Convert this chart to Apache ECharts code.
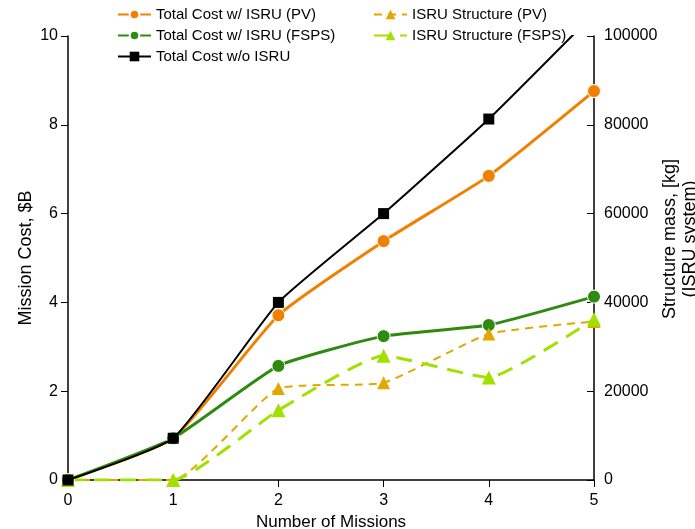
<!DOCTYPE html>
<html>
<head>
<meta charset="utf-8">
<script src="https://cdn.jsdelivr.net/npm/echarts@6/dist/echarts.min.js"></script>
<style>
  html, body { margin: 0; padding: 0; background: #fff; }
  #chart { width: 695px; height: 529px; }
</style>
</head>
<body>
<div id="chart"></div>
<script>
// number of missions
const missions = ['0', '1', '2', '3', '4', '5']
// mission cost, $B (left axis)
const costPV = [0, 0.94, 3.71, 5.38, 6.85, 8.76]
const costFSPS = [0, 0.94, 2.57, 3.24, 3.49, 4.13]
const costNoISRU = [0, 0.94, 4.0, 6.0, 8.13, 10.5]
// structure mass, kg (right axis)
const structPV = [0, 0, 20600, 21900, 32900, 35700]
const structFSPS = [0, 0, 15700, 28000, 23100, 36200]

const chart = echarts.init(document.getElementById('chart'))
const font = 'Liberation Sans, Arial, sans-serif'

const axisLine = { show: true, lineStyle: { color: '#000', width: 1.5 } }
const legendText = { fontSize: 15, color: '#000', fontFamily: font }

chart.setOption({
  animation: false,
  textStyle: { fontFamily: font },
  legend: [
    {
      orient: 'vertical',
      left: 117,
      top: 7,
      padding: 0,
      itemWidth: 33,
      itemHeight: 12,
      itemGap: 6,
      textStyle: legendText,
      data: ['Total Cost w/ ISRU (PV)', 'Total Cost w/ ISRU (FSPS)', 'Total Cost w/o ISRU']
    },
    {
      orient: 'vertical',
      left: 373,
      top: 7,
      padding: 0,
      itemWidth: 33,
      itemHeight: 12,
      itemGap: 6,
      textStyle: legendText,
      data: ['ISRU Structure (PV)', 'ISRU Structure (FSPS)']
    }
  ],
  grid: { left: 68, right: 101, top: 36, bottom: 49, outerBoundsMode: 'none' },
  xAxis: {
    type: 'category',
    boundaryGap: false,
    data: missions,
    name: 'Number of Missions',
    nameLocation: 'middle',
    nameGap: 31,
    nameTextStyle: { fontSize: 17, color: '#000' },
    axisLine: axisLine,
    axisTick: { show: true, length: 7, lineStyle: { color: '#000' } },
    axisLabel: { fontSize: 16, color: '#000', margin: 13 },
    splitLine: { show: false }
  },
  yAxis: [
    {
      type: 'value',
      min: 0,
      max: 10,
      interval: 2,
      name: 'Mission Cost, $B',
      nameLocation: 'middle',
      nameGap: 33,
      nameMoveOverlap: false,
      nameTextStyle: { fontSize: 18, color: '#000' },
      axisLine: axisLine,
      axisTick: { show: true, length: 7, lineStyle: { color: '#000' } },
      axisLabel: { fontSize: 16, color: '#000', margin: 10 },
      splitLine: { show: false }
    },
    {
      type: 'value',
      min: 0,
      max: 100000,
      interval: 20000,
      position: 'right',
      name: 'Structure mass, [kg]\n(ISRU system)',
      nameLocation: 'middle',
      nameGap: 66,
      nameMoveOverlap: false,
      nameTextStyle: { fontSize: 18, color: '#000', lineHeight: 20, padding: [0, 0, 0, 38] },
      axisLine: axisLine,
      axisTick: { show: true, inside: true, length: 7, lineStyle: { color: '#000' } },
      axisLabel: { fontSize: 16, color: '#000', margin: 10, formatter: v => String(v) },
      splitLine: { show: false }
    }
  ],
  series: [
    {
      name: 'Total Cost w/o ISRU',
      type: 'line',
      data: costNoISRU,
      smooth: 0.15,
      symbol: 'rect',
      symbolSize: 11,
      z: 5,
      itemStyle: { color: '#000' },
      lineStyle: { color: '#000', width: 2 }
    },
    {
      name: 'Total Cost w/ ISRU (PV)',
      type: 'line',
      data: costPV,
      smooth: 0.15,
      symbol: 'circle',
      symbolSize: 13,
      itemStyle: { color: '#F28000', borderColor: '#fff', borderWidth: 1 },
      lineStyle: { color: '#F28000', width: 3 }
    },
    {
      name: 'Total Cost w/ ISRU (FSPS)',
      type: 'line',
      data: costFSPS,
      smooth: 0.15,
      symbol: 'circle',
      symbolSize: 13,
      itemStyle: { color: '#2F8A10', borderColor: '#fff', borderWidth: 1 },
      lineStyle: { color: '#2F8A10', width: 3 }
    },
    {
      name: 'ISRU Structure (PV)',
      type: 'line',
      yAxisIndex: 1,
      data: structPV,
      smooth: 0.15,
      symbol: 'triangle',
      symbolSize: 13,
      itemStyle: { color: '#E2A800' },
      lineStyle: { color: '#E2A800', width: 2, type: [8, 6] }
    },
    {
      name: 'ISRU Structure (FSPS)',
      type: 'line',
      yAxisIndex: 1,
      data: structFSPS,
      smooth: 0.15,
      symbol: 'triangle',
      symbolSize: 14,
      itemStyle: { color: '#A2E000' },
      lineStyle: { color: '#A2E000', width: 3, type: [16, 10] }
    }
  ]
})
</script>
</body>
</html>
